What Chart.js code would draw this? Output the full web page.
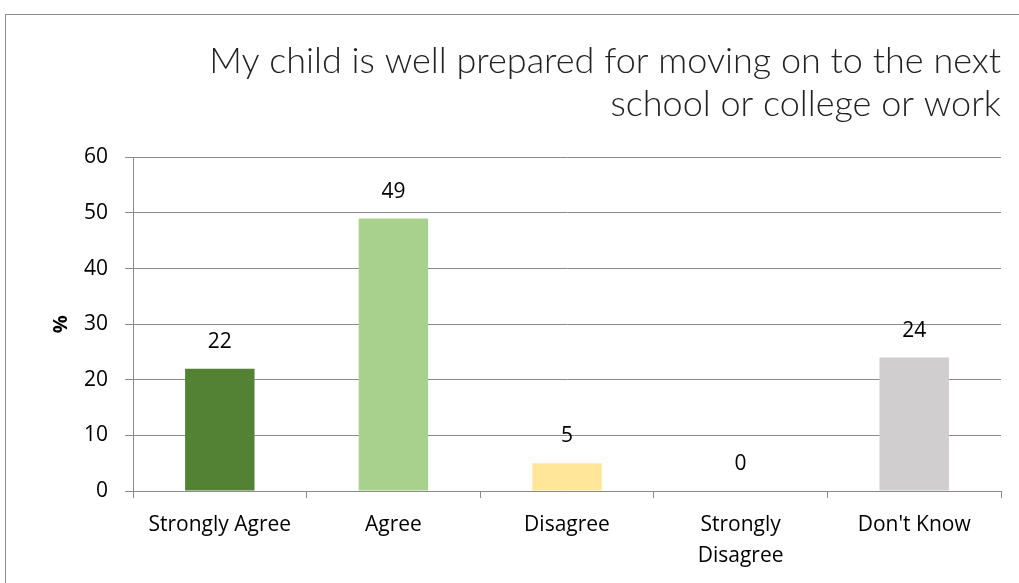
<!DOCTYPE html>
<html lang="en">
<head>
    <meta charset="UTF-8">
    <script src="https://cdn.jsdelivr.net/npm/chart.js"></script>
    <title>Prepared for next stage</title>
    <style>
        body { margin: 0; background: #fff; overflow: hidden; }
        #moldura {
            position: absolute; left: 5px; top: 14px;
            width: 1040px; height: 600px;
            border: 1px solid #8a8a8a;
            pointer-events: none;
        }
        #grafico { position: absolute; left: 0; top: 0; }
    </style>
</head>
<body>
    <canvas id="grafico" width="1019" height="583"></canvas>
    <div id="moldura"></div>
<script>
    const categorias = ['Strongly Agree', 'Agree', 'Disagree', ['Strongly', 'Disagree'], "Don't Know"];
    const valores = [22, 49, 5, 0, 24];
    const cores = ['#548235', '#A9D18E', '#FFE699', '#F4B183', '#D0CECE'];
    const titulo = ['My child is well prepared for moving on to the next', 'school or college or work'];

    // escreve o valor em cima de cada barra
    const rotulos = {
        id: 'rotulos',
        afterDatasetsDraw(chart) {
            const ctx = chart.ctx;
            const meta = chart.getDatasetMeta(0);
            ctx.save();
            ctx.font = '21px "Open Sans"';
            ctx.fillStyle = '#000';
            ctx.textAlign = 'center';
            ctx.textBaseline = 'middle';
            meta.data.forEach((barra, i) => {
                ctx.fillText(valores[i], barra.x, barra.y - 27);
            });
            ctx.restore();
        }
    };

    new Chart(document.getElementById('grafico'), {
        type: 'bar',
        data: {
            labels: categorias,
            datasets: [{
                data: valores,
                backgroundColor: cores,
                barPercentage: 0.4,
                categoryPercentage: 1
            }]
        },
        options: {
            responsive: false,
            animation: false,
            layout: { padding: { left: 45, right: 18, top: 14, bottom: 0 } },
            plugins: {
                legend: { display: false },
                tooltip: { enabled: false },
                title: {
                    display: true,
                    text: titulo,
                    align: 'end',
                    color: '#222',
                    font: { family: 'Lato', size: 36, weight: '300', lineHeight: 1.2 },
                    padding: { top: 26, bottom: 31 }
                }
            },
            scales: {
                x: {
                    grid: { offset: true, drawOnChartArea: false, color: '#8a8a8a', tickLength: 7 },
                    border: { color: '#8a8a8a' },
                    ticks: {
                        color: '#000',
                        font: { family: 'Open Sans', size: 21, lineHeight: 1.5 },
                        padding: 11,
                        maxRotation: 0
                    }
                },
                y: {
                    min: 0,
                    max: 60,
                    afterFit: s => { s.width = 88; },
                    grid: { color: '#8a8a8a', tickLength: 8 },
                    border: { color: '#8a8a8a' },
                    ticks: {
                        stepSize: 10,
                        color: '#000',
                        font: { family: 'Open Sans', size: 21 },
                        padding: 17
                    },
                    title: {
                        display: true,
                        text: '%',
                        color: '#000',
                        font: { family: 'Open Sans', size: 20, weight: 'bold' }
                    }
                }
            }
        },
        plugins: [rotulos]
    });
</script>
</body>
</html>
